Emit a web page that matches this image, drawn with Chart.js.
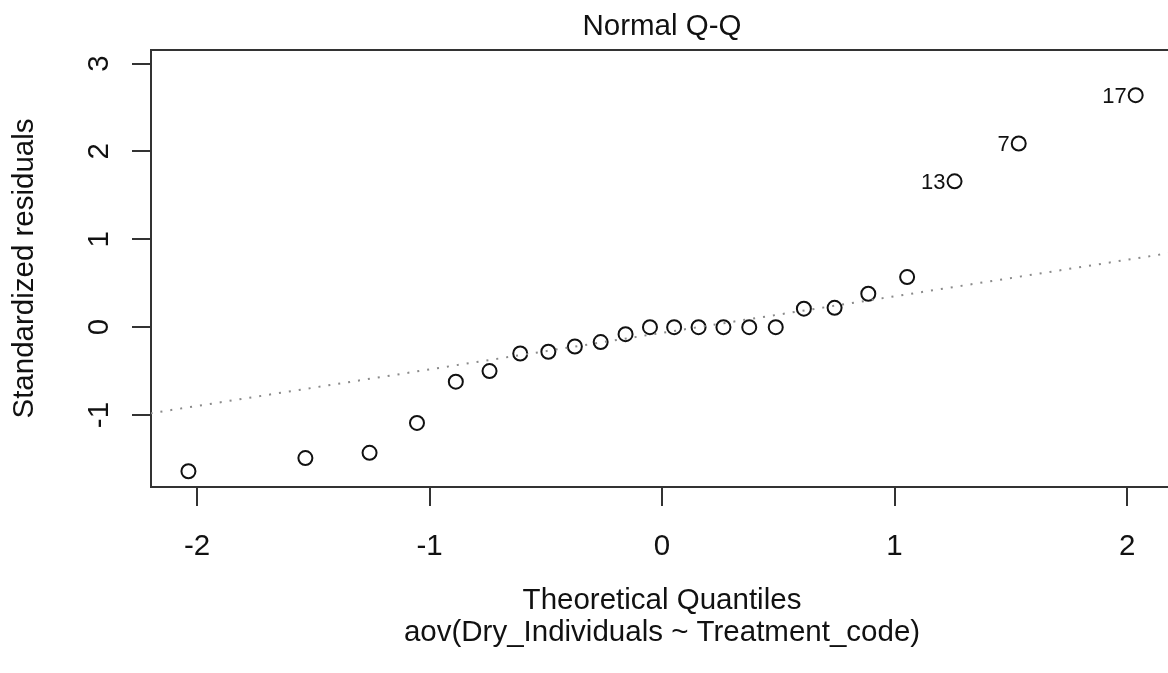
<!DOCTYPE html>
<html>
<head>
<meta charset="utf-8">
<script src="https://cdn.jsdelivr.net/npm/chart.js@4.4.0/dist/chart.umd.min.js"></script>
<style>
  html, body { margin: 0; padding: 0; background: #ffffff; }
  canvas { display: block; }
</style>
</head>
<body>
<canvas id="qq" width="1168" height="673"></canvas>
<script>
// ---- data ----
const theoreticalQuantiles = [-2.037, -1.534, -1.258, -1.054, -0.887, -0.742, -0.610, -0.489, -0.375, -0.264, -0.157, -0.052,
                               0.052, 0.157, 0.264, 0.375, 0.489, 0.610, 0.742, 0.887, 1.054, 1.258, 1.534, 2.037];
const standardizedResiduals = [-1.64, -1.49, -1.43, -1.09, -0.62, -0.50, -0.30, -0.28, -0.22, -0.17, -0.08, 0.00,
                               0.00, 0.00, 0.00, 0.00, 0.00, 0.21, 0.22, 0.38, 0.57, 1.66, 2.09, 2.64];
const idLabels = ['13', '7', '17'];
const idIndex = [21, 22, 23];
const qqLineX = [-2.2, 2.2];
const qqLineY = [-0.98, 0.85];
const xTicks = [-2, -1, 0, 1, 2];
const yTicks = [-1, 0, 1, 2, 3];
const xRange = [-2.198, 2.176];
const yRange = [-1.819, 3.154];

const mainTitle = 'Normal Q-Q';
const xTitle = 'Theoretical Quantiles';
const subTitle = 'aov(Dry_Individuals ~ Treatment_code)';
const yTitle = 'Standardized residuals';

const FONT = '"Liberation Sans", Arial, Helvetica, sans-serif';
const INK = '#111111';

const rTextPlugin = {
  id: 'rText',
  afterDraw(chart) {
    const ctx = chart.ctx;
    const xs = chart.scales.x, ys = chart.scales.y;
    const area = chart.chartArea;
    ctx.save();
    // top box line
    ctx.strokeStyle = '#333';
    ctx.lineWidth = 2;
    ctx.beginPath();
    ctx.moveTo(area.left, area.top);
    ctx.lineTo(area.right, area.top);
    ctx.stroke();

    ctx.fillStyle = INK;
    // x tick labels
    ctx.font = '29.5px ' + FONT;
    ctx.textAlign = 'center';
    ctx.textBaseline = 'alphabetic';
    xTicks.forEach(v => ctx.fillText(String(v), xs.getPixelForValue(v), 555));
    // y tick labels (rotated)
    yTicks.forEach(v => {
      ctx.save();
      ctx.translate(108, ys.getPixelForValue(v));
      ctx.rotate(-Math.PI / 2);
      ctx.fillText(String(v), 0, 0);
      ctx.restore();
    });
    // titles
    const cx = 662;
    ctx.fillText(mainTitle, cx, 35);
    ctx.fillText(xTitle, cx, 609);
    ctx.fillText(subTitle, cx, 641);
    ctx.save();
    ctx.translate(33, (area.top + area.bottom) / 2);
    ctx.rotate(-Math.PI / 2);
    ctx.fillText(yTitle, 0, 0);
    ctx.restore();
    // point id labels
    ctx.font = '22px ' + FONT;
    ctx.textAlign = 'right';
    idIndex.forEach((i, k) => {
      const px = xs.getPixelForValue(theoreticalQuantiles[i]);
      const py = ys.getPixelForValue(standardizedResiduals[i]);
      ctx.fillText(idLabels[k], px - 9, py + 8);
    });
    ctx.restore();
  }
};

new Chart(document.getElementById('qq'), {
  type: 'scatter',
  data: {
    datasets: [
      {
        type: 'line',
        data: qqLineX.map((x, i) => ({ x: x, y: qqLineY[i] })),
        borderColor: '#8a8a8a',
        borderWidth: 2,
        borderDash: [2, 8],
        pointRadius: 0,
        fill: false,
        tension: 0
      },
      {
        data: theoreticalQuantiles.map((x, i) => ({ x: x, y: standardizedResiduals[i] })),
        pointStyle: 'circle',
        pointRadius: 7,
        pointBorderWidth: 2,
        borderColor: INK,
        pointBorderColor: INK,
        backgroundColor: 'rgba(0,0,0,0)',
        pointBackgroundColor: 'rgba(0,0,0,0)',
        showLine: false
      }
    ]
  },
  options: {
    responsive: false,
    animation: false,
    devicePixelRatio: 1,
    layout: { autoPadding: false, padding: { left: 0, top: 50, right: 0, bottom: 0 } },
    plugins: { legend: { display: false }, tooltip: { enabled: false }, title: { display: false } },
    scales: {
      x: {
        type: 'linear',
        min: xRange[0], max: xRange[1],
        afterBuildTicks: s => { s.ticks = xTicks.map(v => ({ value: v })); },
        afterFit: s => { s.height = 186; },
        ticks: { display: false },
        grid: { display: true, drawOnChartArea: false, drawTicks: true, tickLength: 19, color: '#333', lineWidth: 2 },
        border: { display: true, color: '#333', width: 2 }
      },
      y: {
        type: 'linear',
        min: yRange[0], max: yRange[1],
        afterBuildTicks: s => { s.ticks = yTicks.map(v => ({ value: v })); },
        afterFit: s => { s.width = 151; },
        ticks: { display: false },
        grid: { display: true, drawOnChartArea: false, drawTicks: true, tickLength: 19, color: '#333', lineWidth: 2 },
        border: { display: true, color: '#333', width: 2 }
      }
    }
  },
  plugins: [rTextPlugin]
});
</script>
</body>
</html>
